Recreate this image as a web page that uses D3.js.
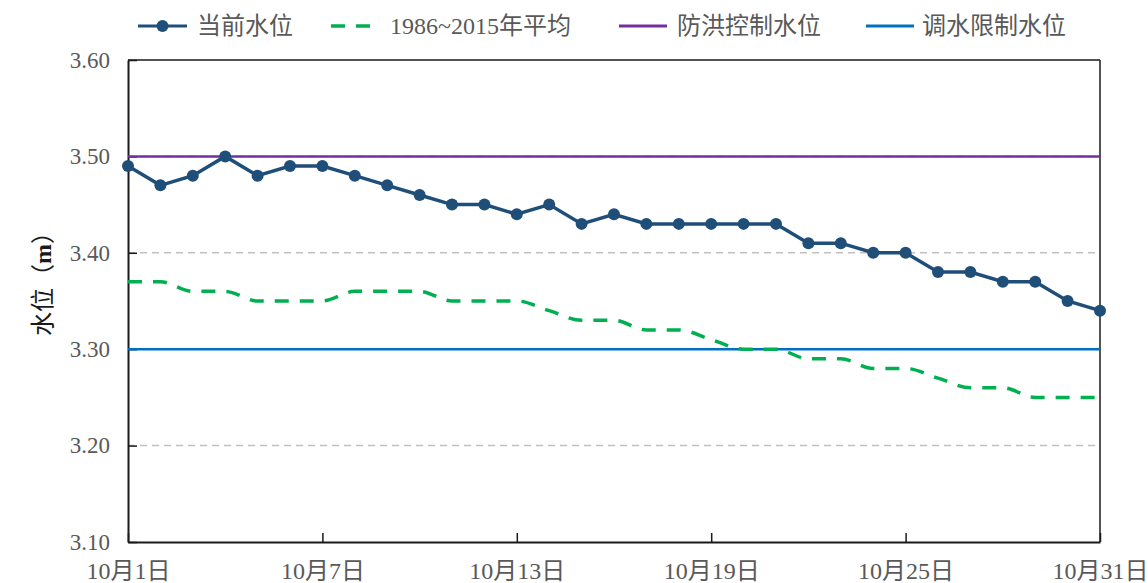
<!DOCTYPE html>
<html>
<head>
<meta charset="utf-8">
<script src="https://cdn.jsdelivr.net/npm/d3@7"></script>
<style>
  body { margin: 0; background: #fff; }
</style>
</head>
<body>
<div id="chart"></div>
<script>
/************************
 *  Data
 ************************/
const days = d3.range(1, 32);
const currentLevel = [3.49, 3.47, 3.48, 3.50, 3.48, 3.49, 3.49, 3.48, 3.47, 3.46,
  3.45, 3.45, 3.44, 3.45, 3.43, 3.44, 3.43, 3.43, 3.43, 3.43,
  3.43, 3.41, 3.41, 3.40, 3.40, 3.38, 3.38, 3.37, 3.37, 3.35, 3.34];
const avgLevel = [3.37, 3.37, 3.36, 3.36, 3.35, 3.35, 3.35, 3.36, 3.36, 3.36,
  3.35, 3.35, 3.35, 3.34, 3.33, 3.33, 3.32, 3.32, 3.31, 3.30,
  3.30, 3.29, 3.29, 3.28, 3.28, 3.27, 3.26, 3.26, 3.25, 3.25, 3.25];
const floodLevel = 3.50;
const diversionLevel = 3.30;
const yTicks = [3.10, 3.20, 3.30, 3.40, 3.50, 3.60];
const xTicks = [1, 7, 13, 19, 25, 31];
const legendNames = ["当前水位", "1986~2015年平均", "防洪控制水位", "调水限制水位"];

/************************
 *  Setup
 ************************/
const width = 1148, height = 583;
const margin = { top: 60, right: 48, bottom: 41, left: 128 };
const serif = "'Liberation Serif', 'Times New Roman', 'Noto Sans CJK SC', serif";

const svg = d3.select("#chart").append("svg")
  .attr("width", width)
  .attr("height", height)
  .attr("font-family", serif);

const x = d3.scaleLinear().domain([1, 31]).range([margin.left, width - margin.right]);
const y = d3.scaleLinear().domain([3.10, 3.60]).range([height - margin.bottom, margin.top]);

const colors = { cur: "#1f4e79", avg: "#00b050", flood: "#7030a0", div: "#0070c0" };

// grid lines
svg.append("g")
  .selectAll("line")
  .data(yTicks.filter(d => d > 3.10 && d < 3.60))
  .enter().append("line")
  .attr("x1", x(1)).attr("x2", x(31))
  .attr("y1", d => y(d)).attr("y2", d => y(d))
  .style("stroke", "#c0c0c0")
  .style("stroke-width", 1.5)
  .style("stroke-dasharray", "7,5");

// axes
const yAxis = svg.append("g")
  .attr("transform", `translate(${margin.left},0)`)
  .call(d3.axisLeft(y).tickValues(yTicks).tickFormat(d3.format(".2f")).tickSizeInner(-9).tickSizeOuter(0).tickPadding(18));
const xAxis = svg.append("g")
  .attr("transform", `translate(0,${height - margin.bottom})`)
  .call(d3.axisBottom(x).tickValues(xTicks).tickFormat(d => `10月${d}日`).tickSizeInner(-9).tickSizeOuter(0));

[yAxis, xAxis].forEach(g => {
  g.attr("font-family", serif);
  g.select(".domain").style("stroke", "#1a1a1a").style("stroke-width", 2);
  g.selectAll(".tick line").style("stroke", "#1a1a1a").style("stroke-width", 1.5);
  g.selectAll(".tick text").attr("fill", "#595959");
});
yAxis.attr("font-size", 23);
xAxis.attr("font-size", 24);
xAxis.selectAll(".tick text").attr("y", 37).attr("dy", 0);

// top and right frame
svg.append("line")
  .attr("x1", x(1)).attr("x2", x(31)).attr("y1", y(3.60)).attr("y2", y(3.60))
  .style("stroke", "#1a1a1a").style("stroke-width", 1.5);
svg.append("line")
  .attr("x1", x(31)).attr("x2", x(31)).attr("y1", y(3.60)).attr("y2", y(3.10))
  .style("stroke", "#1a1a1a").style("stroke-width", 1.5);

// y title
const yTitle = svg.append("text")
  .attr("transform", "translate(45,278) rotate(-90)")
  .attr("text-anchor", "middle")
  .attr("dominant-baseline", "middle")
  .attr("font-size", 24)
  .attr("fill", "#1a1a1a");
yTitle.append("tspan").text("水位（");
yTitle.append("tspan").attr("font-weight", "bold").text("m");
yTitle.append("tspan").text("）");

/************************
 *  Lines
 ************************/
svg.append("line")
  .attr("x1", x(1)).attr("x2", x(31)).attr("y1", y(floodLevel)).attr("y2", y(floodLevel))
  .style("stroke", colors.flood).style("stroke-width", 2.5);
svg.append("line")
  .attr("x1", x(1)).attr("x2", x(31)).attr("y1", y(diversionLevel)).attr("y2", y(diversionLevel))
  .style("stroke", colors.div).style("stroke-width", 2.5);

const avgLine = d3.line()
  .x((d, i) => x(days[i]))
  .y(d => y(d))
  .curve(d3.curveMonotoneX);
svg.append("path")
  .datum(avgLevel)
  .attr("d", avgLine)
  .style("fill", "none")
  .style("stroke", colors.avg)
  .style("stroke-width", 3.5)
  .style("stroke-dasharray", "14,11");

const curLine = d3.line()
  .x((d, i) => x(days[i]))
  .y(d => y(d));
svg.append("path")
  .datum(currentLevel)
  .attr("d", curLine)
  .style("fill", "none")
  .style("stroke", colors.cur)
  .style("stroke-width", 3.5);
svg.append("g")
  .selectAll("circle")
  .data(currentLevel)
  .enter().append("circle")
  .attr("cx", (d, i) => x(days[i]))
  .attr("cy", d => y(d))
  .attr("r", 6)
  .style("fill", colors.cur);

/************************
 *  Legend
 ************************/
const legendItems = [
  { x0: 138, x1: 187, tx: 197, color: colors.cur, dash: null, marker: true },
  { x0: 331, x1: 372, tx: 390, color: colors.avg, dash: "14,11", marker: false },
  { x0: 619, x1: 667, tx: 677, color: colors.flood, dash: null, marker: false },
  { x0: 866, x1: 914, tx: 922, color: colors.div, dash: null, marker: false }
];
const ly = 26;
legendItems.forEach((item, i) => {
  svg.append("line")
    .attr("x1", item.x0).attr("x2", item.x1).attr("y1", ly).attr("y2", ly)
    .style("stroke", item.color)
    .style("stroke-width", item.dash ? 3.5 : 3)
    .style("stroke-dasharray", item.dash);
  if (item.marker) {
    svg.append("circle")
      .attr("cx", (item.x0 + item.x1) / 2).attr("cy", ly).attr("r", 6)
      .style("fill", item.color);
  }
  svg.append("text")
    .attr("x", item.tx).attr("y", ly)
    .attr("dominant-baseline", "central")
    .attr("font-size", 24)
    .attr("fill", "#595959")
    .text(legendNames[i]);
});
</script>
</body>
</html>
